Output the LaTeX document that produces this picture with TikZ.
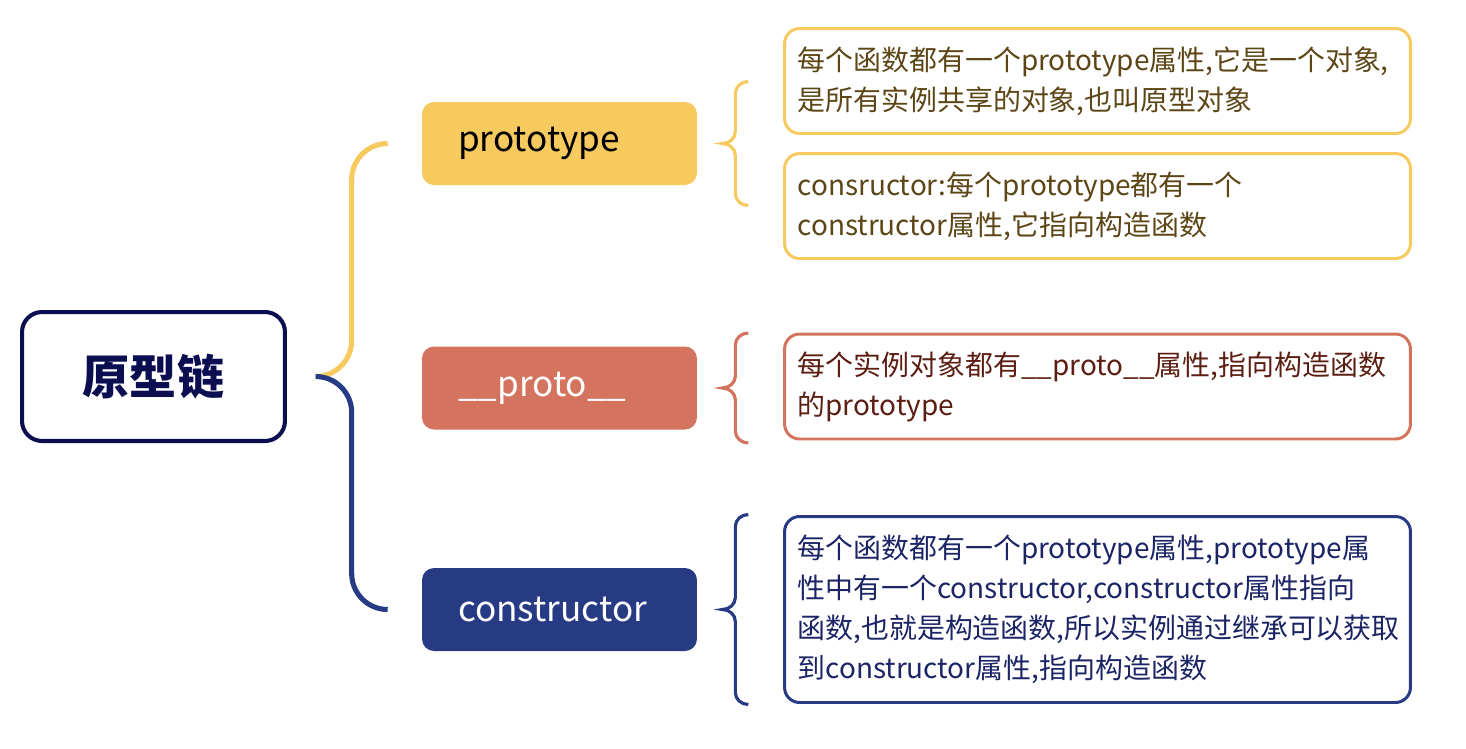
\documentclass[tikz,border=0pt]{standalone}
\usepackage{fontspec}
\setmainfont{Noto Sans CJK SC}
\usetikzlibrary{positioning,calc}
\definecolor{navy}{HTML}{0C0E52}
\definecolor{ylw}{HTML}{F7CA60}
\definecolor{org}{HTML}{D4735E}
\definecolor{blu}{HTML}{273A84}
\definecolor{ylwtxt}{HTML}{5C4616}
\definecolor{orgtxt}{HTML}{5C1E12}
\definecolor{blutxt}{HTML}{1B2566}

% curly brace: colour, tip, half height (px)
\newcommand\sidebrace[3]{%
  \draw[brc, #1] ($(#2)+(26,-#3)$) to[out=180,in=90] ($(#2)+(13,12-#3)$)
    -- ($(#2)+(13,-12)$) to[out=-90,in=0] (#2) to[out=0,in=90] ($(#2)+(13,12)$)
    -- ($(#2)+(13,#3-12)$) to[out=-90,in=180] ($(#2)+(26,#3)$);}

\begin{document}
\begin{tikzpicture}[x=0.02cm, y=-0.02cm,
   root/.style={draw=navy, line width=2.3pt, rounded corners=0.4cm, minimum width=5.26cm, minimum height=2.58cm, text=navy, font=\fontsize{26.8}{30}\selectfont\bfseries},
   lbl/.style={rounded corners=0.24cm, minimum height=1.66cm, text width=4.06cm, inner xsep=0.72cm, align=left, font=\fontsize{20}{24}\selectfont},
   dtl/.style={line width=1.7pt, rounded corners=0.3cm, text width=12cm, inner xsep=0.26cm, align=left, font=\fontsize{15.9}{22.7}\selectfont},
   branch/.style={line width=2.9pt, rounded corners=0.72cm},
   brc/.style={line width=1.8pt}]
  \useasboundingbox (0,0) rectangle (1466,748);
  \node[root] (root) at (153.5,376.5) {原型链};
  \node[lbl, fill=ylw, text=black] (proto) at (559.5,143.5) {prototype};
  \node[lbl, fill=org, text=white] (dunder) at (559.5,388) {\_\_proto\_\_};
  \node[lbl, fill=blu, text=white] (ctor) at (559.5,609.5) {constructor};
  \node[dtl, draw=ylw, text=ylwtxt, minimum height=2.1cm] (d1) at (1097.5,81) {每个函数都有一个prototype属性,它是一个对象,\\是所有实例共享的对象,也叫原型对象};
  \node[dtl, draw=ylw, text=ylwtxt, minimum height=2.1cm] (d2) at (1097.5,206) {consructor:每个prototype都有一个\\constructor属性,它指向构造函数};
  \node[dtl, draw=org, text=orgtxt, minimum height=2.1cm] (d3) at (1097.5,386.5) {每个实例对象都有\_\_proto\_\_属性,指向构造函数\\的prototype};
  \node[dtl, draw=blu, text=blutxt, minimum height=3.72cm] (d4) at (1097.5,609.5) {每个函数都有一个prototype属性,prototype属\\性中有一个constructor,constructor属性指向\\函数,也就是构造函数,所以实例通过继承可以获取\\到constructor属性,指向构造函数};
  \coordinate (fork) at ($(root.east)+(29,0)$);
  \draw[branch, ylw] (fork) -| ($(proto.west)+(-70,0)$) -- ($(proto.west)+(-34,0)$);
  \draw[branch, blu] (fork) -| ($(ctor.west)+(-70,0)$) -- ($(ctor.west)+(-34,0)$);
  \coordinate (tproto) at ($(proto.east)+(25,0)$);
  \coordinate (tdunder) at ($(dunder.east)+(25,0)$);
  \coordinate (tctor) at ($(ctor.east)+(25,0)$);
  \sidebrace{ylw}{tproto}{62}
  \sidebrace{org}{tdunder}{55}
  \sidebrace{blu}{tctor}{95}
\end{tikzpicture}
\end{document}
